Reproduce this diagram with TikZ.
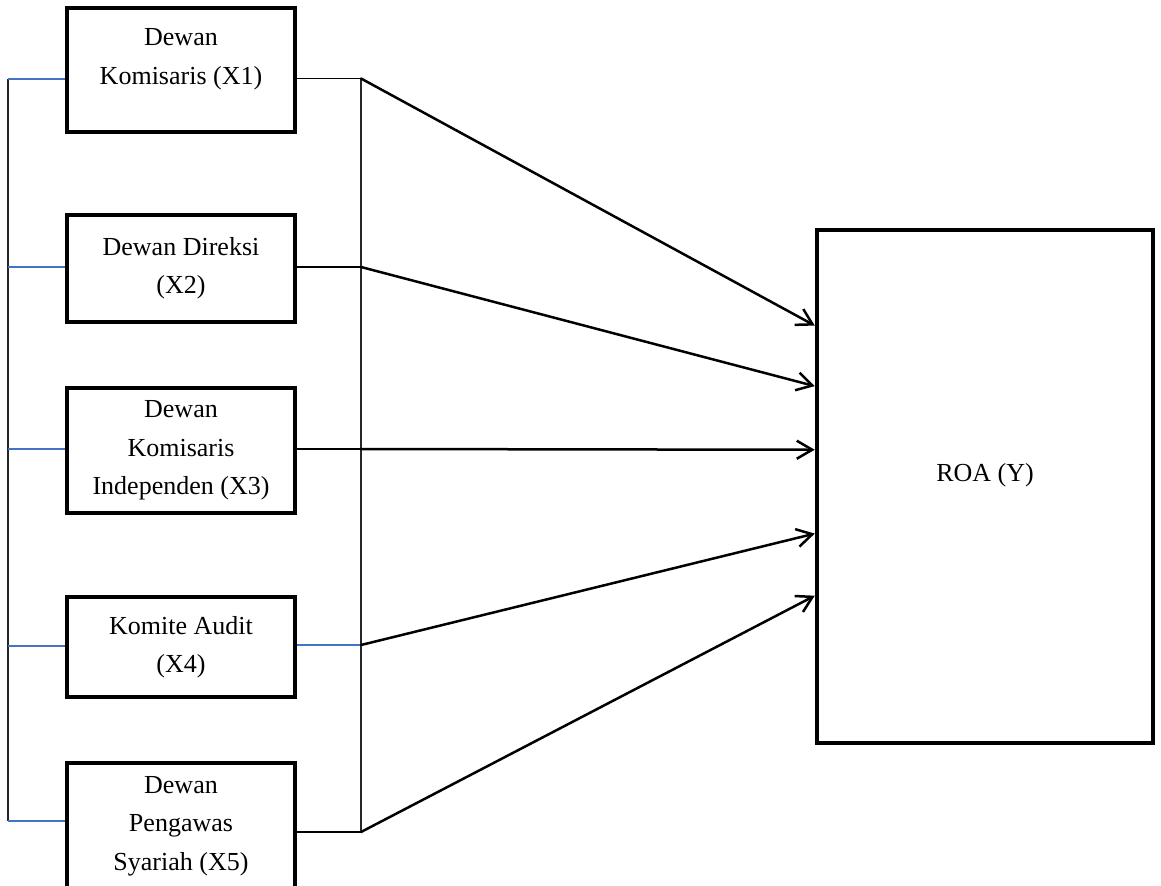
\documentclass[tikz,border=0pt]{standalone}
\usepackage{fontspec}
\setmainfont{Liberation Serif}
\usepackage{xcolor}
\usepackage{tikz}
\usetikzlibrary{arrows.meta,calc,positioning}
\definecolor{tickblue}{HTML}{4472C4}

\begin{document}
\begin{tikzpicture}[
        font=\fontsize{14.8}{21.9}\selectfont,
        varbox/.style={
            draw,
            line width=0.09cm,
            minimum width=4.56cm,
            align=center,
            inner sep=0pt
        },
        bus/.style={
            draw=black!85,
            line width=0.03cm
        },
        tick/.style={
            draw=tickblue,
            line width=0.03cm
        },
        link/.style={
            draw=black,
            line width=0.03cm
        },
        arrow/.style={
            -{Straight Barb[length=3.1mm,width=3.6mm]},
            line width=0.05cm,
            line cap=round,
            line join=round
        }
    ]

        \useasboundingbox (0,0) rectangle (23.22,-17.7);

        % Variabel independen
        \node[varbox,minimum height=2.48cm,text depth=0.54cm] (x1) at (3.62,-1.40)
            {Dewan\\Komisaris (X1)};
        \node[varbox,minimum height=2.14cm] (x2) at (3.62,-5.37)
            {Dewan Direksi\\(X2)};
        \node[varbox,minimum height=2.50cm] (x3) at (3.62,-9.01)
            {Dewan\\Komisaris\\Independen (X3)};
        \node[varbox,minimum height=2.00cm] (x4) at (3.62,-12.94)
            {Komite Audit\\(X4)};
        \node[varbox,minimum height=2.52cm] (x5) at (3.62,-16.52)
            {Dewan\\Pengawas\\Syariah (X5)};

        % Variabel dependen
        \node[varbox,minimum width=6.72cm,minimum height=10.26cm,text depth=0.58cm] (roa) at (19.70,-9.73)
            {ROA (Y)};

        % Garis kiri yang mengikat kelima variabel
        \coordinate (lk1) at (0.16,-1.58);
        \coordinate (lk2) at (0.16,-5.34);
        \coordinate (lk3) at (0.16,-8.98);
        \coordinate (lk4) at (0.16,-12.92);
        \coordinate (lk5) at (0.16,-16.42);

        \draw[bus] (lk1) -- (lk5);
        \draw[tick] (lk1) -- (lk1 -| x1.west);
        \draw[tick] (lk2) -- (lk2 -| x2.west);
        \draw[tick] (lk3) -- (lk3 -| x3.west);
        \draw[tick] (lk4) -- (lk4 -| x4.west);
        \draw[tick] (lk5) -- (lk5 -| x5.west);

        % Garis kanan tempat panah berangkat
        \coordinate (rk1) at (7.22,-1.57);
        \coordinate (rk2) at (7.22,-5.34);
        \coordinate (rk3) at (7.22,-8.98);
        \coordinate (rk4) at (7.22,-12.90);
        \coordinate (rk5) at (7.22,-16.64);

        \draw[bus] (rk1) -- (rk5);
        \draw[link] (x1.east |- rk1) -- (rk1);
        \draw[link] (x2.east |- rk2) -- (rk2);
        \draw[link] (x3.east |- rk3) -- (rk3);
        \draw[tick] (x4.east |- rk4) -- (rk4);
        \draw[link] (x5.east |- rk5) -- (rk5);

        % Titik masuk pada sisi kiri ROA
        \coordinate (roa-in1) at ($(roa.north west)!0.189!(roa.south west)$);
        \coordinate (roa-in2) at ($(roa.north west)!0.306!(roa.south west)$);
        \coordinate (roa-in3) at ($(roa.north west)!0.429!(roa.south west)$);
        \coordinate (roa-in4) at ($(roa.north west)!0.591!(roa.south west)$);
        \coordinate (roa-in5) at ($(roa.north west)!0.711!(roa.south west)$);

        % Pengaruh ke ROA
        \draw[arrow] (rk1) -- (roa-in1);
        \draw[arrow] (rk2) -- (roa-in2);
        \draw[arrow] (rk3) -- (roa-in3);
        \draw[arrow] (rk4) -- (roa-in4);
        \draw[arrow] (rk5) -- (roa-in5);

    \end{tikzpicture}
\end{document}
